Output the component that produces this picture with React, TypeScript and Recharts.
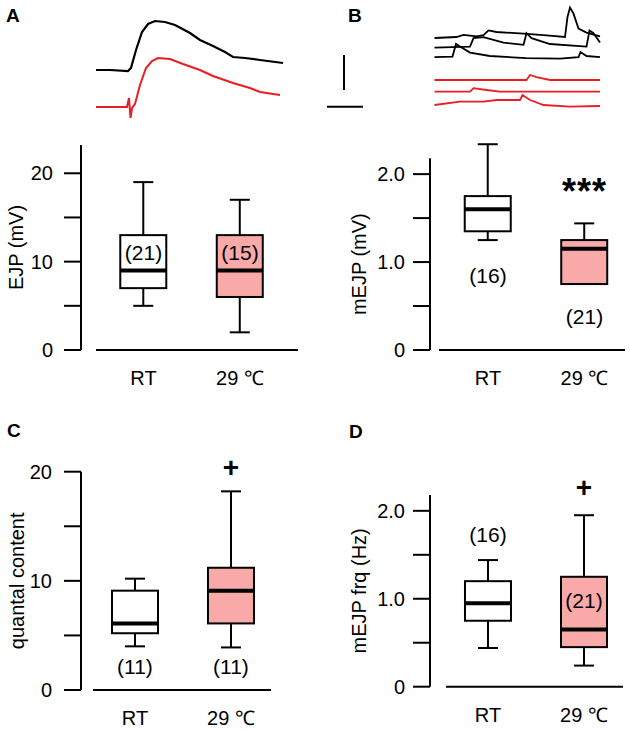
import React from 'react';
import {
  ComposedChart,
  LineChart,
  Line,
  Bar,
  Cell,
  XAxis,
  YAxis,
  ReferenceDot,
  ReferenceLine,
} from 'recharts';

const FONT = '"Liberation Sans", Arial, Helvetica, sans-serif';
const PINK = '#faa9a9';
const RED = '#ec1c24';

const groups = ['RT', '29 ℃'];

// box stats: lower whisker, q1, median, q3, upper whisker
const ejpStats = [
  { group: 1, min: 5, q1: 7, median: 9, q3: 13, max: 19 },
  { group: 2, min: 2, q1: 6, median: 9, q3: 13, max: 17 },
];
const mejpStats = [
  { group: 1, min: 1.25, q1: 1.35, median: 1.6, q3: 1.75, max: 2.34 },
  { group: 2, min: 0.75, q1: 0.75, median: 1.15, q3: 1.25, max: 1.44 },
];
const quantalStats = [
  { group: 1, min: 4, q1: 5.2, median: 6.1, q3: 9.1, max: 10.2 },
  { group: 2, min: 3.9, q1: 6.1, median: 9.1, q3: 11.2, max: 18.2 },
];
const freqStats = [
  { group: 1, min: 0.44, q1: 0.75, median: 0.95, q3: 1.2, max: 1.44 },
  { group: 2, min: 0.24, q1: 0.45, median: 0.65, q3: 1.25, max: 1.95 },
];

// n counts and significance marks
const ejpNotes = [
  { group: 1, y: 11, text: '(21)' },
  { group: 2, y: 11, text: '(15)' },
];
const mejpNotes = [
  { group: 1, y: 0.85, text: '(16)' },
  { group: 2, y: 0.38, text: '(21)' },
  { group: 2, y: 1.8, text: '***', sig: true },
];
const quantalNotes = [
  { group: 1, y: 2.13, text: '(11)' },
  { group: 2, y: 2.13, text: '(11)' },
  { group: 2, y: 20.43, text: '+', sig: true },
];
const freqNotes = [
  { group: 1, y: 1.73, text: '(16)' },
  { group: 2, y: 0.98, text: '(21)' },
  { group: 2, y: 2.27, text: '+', sig: true },
];

const tensTicks = [0, 5, 10, 15, 20];
const tensLabels = ['0', '', '10', '', '20'];
const unitTicks = [0, 0.5, 1, 1.5, 2];
const unitLabels = ['0', '', '1.0', '', '2.0'];

// example EJP traces (ms, mV)
const ejpTraceRT = [
  { t: -2, v: 0 }, { t: 5, v: 0 }, { t: 14, v: -0.25 }, { t: 15.5, v: 0.5 },
  { t: 18, v: 5 }, { t: 21, v: 9.5 }, { t: 24, v: 11.5 }, { t: 27.5, v: 12.25 },
  { t: 32.5, v: 12 }, { t: 37.5, v: 11.25 }, { t: 45, v: 9.25 }, { t: 50, v: 7.5 },
  { t: 56.5, v: 6 }, { t: 62.5, v: 4.5 }, { t: 66.5, v: 3.25 }, { t: 72.5, v: 3 },
  { t: 80, v: 2.5 }, { t: 91.5, v: 1.75 },
];
const ejpTrace29 = [
  { t: -2, v: 0 }, { t: 5, v: 0 }, { t: 13.5, v: 0 }, { t: 14.5, v: 2.25 },
  { t: 15.25, v: -2.75 }, { t: 16, v: -0.25 }, { t: 17.5, v: 0.75 }, { t: 20, v: 5.5 },
  { t: 23, v: 9.75 }, { t: 26, v: 11.5 }, { t: 29, v: 12.25 }, { t: 35, v: 12 },
  { t: 41.5, v: 10.75 }, { t: 50, v: 9.25 }, { t: 56.5, v: 7.75 }, { t: 66.5, v: 6 },
  { t: 75, v: 4.75 }, { t: 80, v: 3.75 }, { t: 90, v: 3 },
];

// example mEJP sweeps (ms, mV)
const minisRT1 = [
  { t: 229, v: 0 }, { t: 273, v: 0.025 }, { t: 287, v: 0.08 }, { t: 313, v: 0.04 },
  { t: 327, v: 0.07 }, { t: 337, v: 0.19 }, { t: 353, v: 0.15 }, { t: 407, v: 0.11 },
  { t: 447, v: 0.07 }, { t: 490, v: 0.025 }, { t: 495, v: 0.525 }, { t: 500, v: 0.76 },
  { t: 507, v: 0.61 }, { t: 517, v: 0.235 }, { t: 533, v: 0.135 }, { t: 560, v: 0.04 },
];
const minisRT2 = [
  { t: 229, v: -0.01 }, { t: 300, v: 0.015 }, { t: 307, v: 0.225 }, { t: 327, v: 0.25 },
  { t: 367, v: 0.115 }, { t: 407, v: 0.06 }, { t: 413, v: 0.35 }, { t: 423, v: 0.225 },
  { t: 460, v: 0.08 }, { t: 533, v: 0.015 }, { t: 539, v: 0.415 }, { t: 547, v: 0.35 },
  { t: 560, v: 0.115 },
];
const minisRT3 = [
  { t: 229, v: 0 }, { t: 265, v: 0.015 }, { t: 272, v: 0.33 }, { t: 280, v: 0.265 },
  { t: 300, v: 0.115 }, { t: 340, v: 0.03 }, { t: 413, v: -0.025 }, { t: 480, v: -0.035 },
  { t: 517, v: 0 }, { t: 521, v: 0.13 }, { t: 533, v: 0.03 }, { t: 560, v: 0 },
];
const minis29a = [
  { t: 229, v: 0 }, { t: 413, v: 0 }, { t: 420, v: 0.125 }, { t: 433, v: 0.07 },
  { t: 460, v: 0 }, { t: 560, v: 0 },
];
const minis29b = [
  { t: 229, v: 0 }, { t: 300, v: 0 }, { t: 307, v: 0.085 }, { t: 333, v: 0.04 },
  { t: 360, v: 0 }, { t: 560, v: 0 },
];
const minis29c = [
  { t: 229, v: 0 }, { t: 280, v: 0.085 }, { t: 327, v: 0.085 }, { t: 353, v: 0.125 },
  { t: 400, v: 0.125 }, { t: 405, v: 0.25 }, { t: 420, v: 0.125 }, { t: 447, v: 0 },
  { t: 500, v: -0.04 }, { t: 560, v: -0.025 },
];

const shift = (trace: { t: number; v: number }[], dv: number) =>
  trace.map((p) => ({ t: p.t, v: p.v + dv }));

function BoxShape(props: any) {
  const { x, y, width, height, payload, fill } = props;
  if (!payload || !height) return null;
  const { min, q1, median, q3, max } = payload;
  const ppu = height / (q3 - q1);
  const py = (v: number) => y + (q3 - v) * ppu;
  const cx = x + width / 2;
  const cap = 10;
  const k = { stroke: '#000', strokeWidth: 2 };
  return (
    <g>
      {max > q3 && <line x1={cx} x2={cx} y1={py(max)} y2={y} {...k} />}
      {max > q3 && <line x1={cx - cap} x2={cx + cap} y1={py(max)} y2={py(max)} {...k} />}
      {min < q1 && <line x1={cx} x2={cx} y1={y + height} y2={py(min)} {...k} />}
      {min < q1 && <line x1={cx - cap} x2={cx + cap} y1={py(min)} y2={py(min)} {...k} />}
      <rect x={x} y={y} width={width} height={height} fill={fill} {...k} />
      <line x1={x} x2={x + width} y1={py(median)} y2={py(median)} stroke="#000" strokeWidth={4} />
    </g>
  );
}

function BoxPanel(p: any) {
  return (
    <div style={{ position: 'absolute', left: p.left, top: p.top }}>
      <ComposedChart width={p.width} height={p.height} data={p.stats} margin={p.margin}>
        <XAxis
          type="number"
          dataKey="group"
          domain={p.xDomain}
          ticks={[1, 2]}
          interval={0}
          tickFormatter={(v: number) => groups[v - 1]}
          tickLine={false}
          axisLine={{ stroke: '#000', strokeWidth: 2, strokeDasharray: `0 ${p.gap} 1000` }}
          tick={{ fill: '#000', fontSize: 20, fontFamily: FONT }}
          tickMargin={15}
          height={p.xAxisHeight}
        />
        <YAxis
          type="number"
          domain={p.yDomain}
          ticks={p.yTicks}
          interval={0}
          tickFormatter={(v: number) => p.yLabels[p.yTicks.indexOf(v)]}
          width={p.yAxisWidth}
          tickSize={17}
          tickMargin={p.tickMargin}
          axisLine={{ stroke: '#000', strokeWidth: 2 }}
          tickLine={{ stroke: '#000', strokeWidth: 2 }}
          tick={{ fill: '#000', fontSize: 20, fontFamily: FONT }}
          label={{
            value: p.yLabel,
            angle: -90,
            position: 'insideLeft',
            offset: p.labelX,
            dy: p.labelDy || 0,
            style: { textAnchor: 'middle' },
            fill: '#000',
            fontSize: 20,
            fontFamily: FONT,
          }}
        />
        <Bar
          dataKey={(d: any) => [d.q1, d.q3]}
          barSize={46}
          isAnimationActive={false}
          shape={(s: any) => <BoxShape {...s} />}
        >
          {p.stats.map((s: any) => (
            <Cell key={s.group} fill={s.group === 1 ? '#ffffff' : PINK} />
          ))}
        </Bar>
        {p.notes.map((n: any, i: number) => (
          <ReferenceDot
            key={i}
            x={n.group}
            y={n.y}
            r={0}
            fill="none"
            stroke="none"
            ifOverflow="visible"
            label={{
              value: n.text,
              position: 'center',
              fill: '#000',
              fontSize: n.text === '***' ? 36 : n.sig ? 28 : 21,
              fontWeight: n.sig ? 'bold' : 'normal',
              letterSpacing: n.text === '***' ? 1 : 0,
              fontFamily: FONT,
            }}
          />
        ))}
      </ComposedChart>
    </div>
  );
}

function TracesA() {
  return (
    <div style={{ position: 'absolute', left: 90, top: 10 }}>
      <LineChart width={200} height={120} margin={{ top: 0, right: 0, bottom: 0, left: 0 }}>
        <XAxis type="number" dataKey="t" domain={[-5, 95]} hide />
        <YAxis type="number" domain={[-15, 15]} hide />
        <Line data={ejpTraceRT} dataKey="v" stroke="#000" strokeWidth={2.2} dot={false} isAnimationActive={false} />
        <Line data={shift(ejpTrace29, -9.25)} dataKey="v" stroke={RED} strokeWidth={2} dot={false} isAnimationActive={false} />
      </LineChart>
    </div>
  );
}

const sweeps = [
  { trace: minisRT1, offset: 0, color: '#000' },
  { trace: minisRT2, offset: -0.23, color: '#000' },
  { trace: minisRT3, offset: -0.48, color: '#000' },
  { trace: minis29a, offset: -1.05, color: RED },
  { trace: minis29b, offset: -1.34, color: RED },
  { trace: minis29c, offset: -1.675, color: RED },
];

function TracesB() {
  return (
    <div style={{ position: 'absolute', left: 320, top: -2 }}>
      <LineChart width={290} height={120} margin={{ top: 0, right: 0, bottom: 0, left: 0 }}>
        <XAxis type="number" dataKey="t" domain={[0, 580]} hide />
        <YAxis type="number" domain={[-2, 1]} hide />
        {sweeps.map((s, i) => (
          <Line
            key={i}
            data={shift(s.trace, s.offset)}
            dataKey="v"
            stroke={s.color}
            strokeWidth={1.8}
            dot={false}
            isAnimationActive={false}
          />
        ))}
        {/* scale bars */}
        <ReferenceLine
          segment={[{ x: 48, y: -0.425 }, { x: 48, y: -1.3 }]}
          stroke="#000"
          strokeWidth={2}
          ifOverflow="visible"
        />
        <ReferenceLine
          segment={[{ x: 14, y: -1.72 }, { x: 86, y: -1.72 }]}
          stroke="#000"
          strokeWidth={2}
          ifOverflow="visible"
        />
      </LineChart>
    </div>
  );
}

export default function App() {
  return (
    <div
      style={{
        position: 'absolute',
        left: 0,
        top: 0,
        width: 630,
        height: 731,
        background: '#fff',
        fontFamily: FONT,
        overflow: 'hidden',
      }}
    >
      <TracesA />
      <TracesB />
      <BoxPanel
        left={0} top={135} width={310} height={260}
        margin={{ top: 10, right: 12, bottom: 0, left: 0 }}
        stats={ejpStats} notes={ejpNotes}
        xDomain={[0.352, 2.601]} gap={15}
        yDomain={[0, 23.2]} yTicks={tensTicks} yLabels={tensLabels}
        yAxisWidth={81} xAxisHeight={45} tickMargin={11}
        yLabel="EJP (mV)" labelX={16}
      />
      <BoxPanel
        left={320} top={135} width={310} height={260}
        margin={{ top: 23.3, right: 5, bottom: 0, left: 0 }}
        stats={mejpStats} notes={mejpNotes}
        xDomain={[0.399, 2.42]} gap={9}
        yDomain={[0, 2.18]} yTicks={unitTicks} yLabels={unitLabels}
        yAxisWidth={110} xAxisHeight={45} tickMargin={8}
        yLabel="mEJP (mV)" labelX={39} labelDy={10}
      />
      <BoxPanel
        left={0} top={440} width={310} height={290}
        margin={{ top: 31.7, right: 39, bottom: 0, left: 0 }}
        stats={quantalStats} notes={quantalNotes}
        xDomain={[0.4375, 2.417]} gap={12}
        yDomain={[0, 20]} yTicks={tensTicks} yLabels={tensLabels}
        yAxisWidth={81} xAxisHeight={40} tickMargin={12}
        yLabel="quantal content" labelX={17}
      />
      <BoxPanel
        left={320} top={440} width={310} height={290}
        margin={{ top: 55, right: 7, bottom: 0, left: 0 }}
        stats={freqStats} notes={freqNotes}
        xDomain={[0.396, 2.406]} gap={16}
        yDomain={[0, 2.18]} yTicks={unitTicks} yLabels={unitLabels}
        yAxisWidth={110} xAxisHeight={43.3} tickMargin={8}
        yLabel="mEJP frq (Hz)" labelX={39}
      />
      <svg
        width={630}
        height={731}
        style={{ position: 'absolute', left: 0, top: 0, pointerEvents: 'none' }}
      >
        <g fontFamily={FONT} fontWeight="bold" fontSize={19} fill="#000">
          <text x={6} y={22}>A</text>
          <text x={348} y={22}>B</text>
          <text x={7} y={437}>C</text>
          <text x={349} y={438}>D</text>
        </g>
      </svg>
    </div>
  );
}
